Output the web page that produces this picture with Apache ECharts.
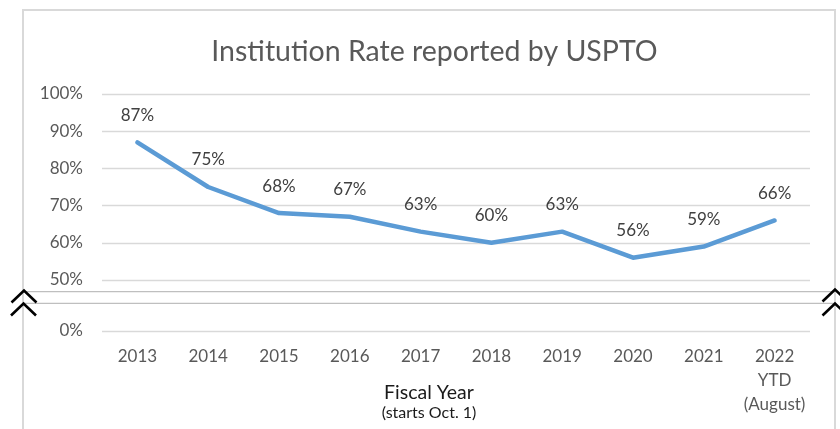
<!DOCTYPE html>
<html><head><meta charset="utf-8">
<script src="https://cdn.jsdelivr.net/npm/echarts@6/dist/echarts.min.js"></script>
<style>html,body{margin:0;padding:0;background:#fff}#c{width:840px;height:429px}</style>
</head><body><div id="c"></div>
<script>
const categories = ['2013','2014','2015','2016','2017','2018','2019','2020','2021','2022\nYTD\n(August)'];
const institutionRate = [87,75,68,67,63,60,63,56,59,66];
const upperAxisRange = [50, 100];
const lowerAxisRange = [0, 10];
const tickStep = 10;
const titleText = 'Institution Rate reported by USPTO';
const axisTitle = 'Fiscal Year';
const axisSubtitle = '(starts Oct. 1)';

const FONT = 'Lato';
const chart = echarts.init(document.getElementById('c'), null, {renderer:'canvas'});
const grey = '#d9d9d9';

function chevron(cx, cy){
  return {type:'polyline', shape:{points:[[cx-12.5,cy+12],[cx,cy],[cx+12.5,cy+12]]},
    style:{stroke:'#000', lineWidth:2.6, fill:null}, z:100};
}

chart.setOption({
  animation:false,
  backgroundColor:'#fff',
  textStyle:{fontFamily:FONT},
  title:[
    {text:titleText, left:429.5, top:32, textAlign:'center',
     textStyle:{fontFamily:FONT, fontSize:28.5, fontWeight:'normal', color:'#595959'}},
    {text:axisTitle, subtext:axisSubtitle, left:424, top:378, textAlign:'center', itemGap:2,
     textStyle:{fontFamily:FONT, fontSize:19.5, fontWeight:'normal', color:'#1a1a1a'},
     subtextStyle:{fontFamily:FONT, fontSize:16, color:'#1a1a1a'}}
  ],
  grid:[
    {left:102, right:30, top:94, height:186},
    {left:102, right:30, top:305, height:26}
  ],
  xAxis:[
    {gridIndex:0, type:'category', data:categories, show:false},
    {gridIndex:1, type:'category', data:categories,
     axisLine:{show:false}, axisTick:{show:false},
     axisLabel:{interval:0, color:'#595959', fontSize:17, lineHeight:24, margin:14, fontFamily:FONT}}
  ],
  yAxis:[
    {gridIndex:0, type:'value', min:upperAxisRange[0], max:upperAxisRange[1], interval:tickStep,
     axisLine:{show:false}, axisTick:{show:false},
     axisLabel:{formatter:'{value}%', color:'#595959', fontSize:17, margin:19, fontFamily:FONT},
     splitLine:{lineStyle:{color:grey, width:1.3}}},
    {gridIndex:1, type:'value', min:lowerAxisRange[0], max:lowerAxisRange[1], interval:tickStep,
     axisLine:{show:false}, axisTick:{show:false},
     axisLabel:{formatter:v => v === 0 ? '0%' : '', color:'#595959', fontSize:17, margin:19, fontFamily:FONT},
     splitLine:{showMaxLine:false, lineStyle:{color:grey, width:1.3}}}
  ],
  series:[{
    type:'line', xAxisIndex:0, yAxisIndex:0, data:institutionRate,
    symbol:'circle', symbolSize:1, showSymbol:true, smooth:false,
    itemStyle:{color:'rgba(0,0,0,0)'},
    lineStyle:{color:'#5B9BD5', width:4.5, cap:'round', join:'round'},
    label:{show:true, position:'top', distance:18, formatter:'{c}%', color:'#404040', fontSize:17, fontFamily:FONT}
  }],
  graphic:[
    {type:'rect', shape:{x:23, y:10, width:812, height:440}, style:{stroke:'#d9d9d9', lineWidth:2, fill:null}, z:50},
    {type:'line', shape:{x1:23, y1:291.7, x2:835, y2:291.7}, style:{stroke:'#bfbfbf', lineWidth:1.2}, z:60},
    {type:'line', shape:{x1:23, y1:303.3, x2:835, y2:303.3}, style:{stroke:'#bfbfbf', lineWidth:1.2}, z:60},
    chevron(24, 290.5), chevron(23.5, 303.5),
    chevron(835, 289.5), chevron(835, 303.5)
  ]
});
</script></body></html>
